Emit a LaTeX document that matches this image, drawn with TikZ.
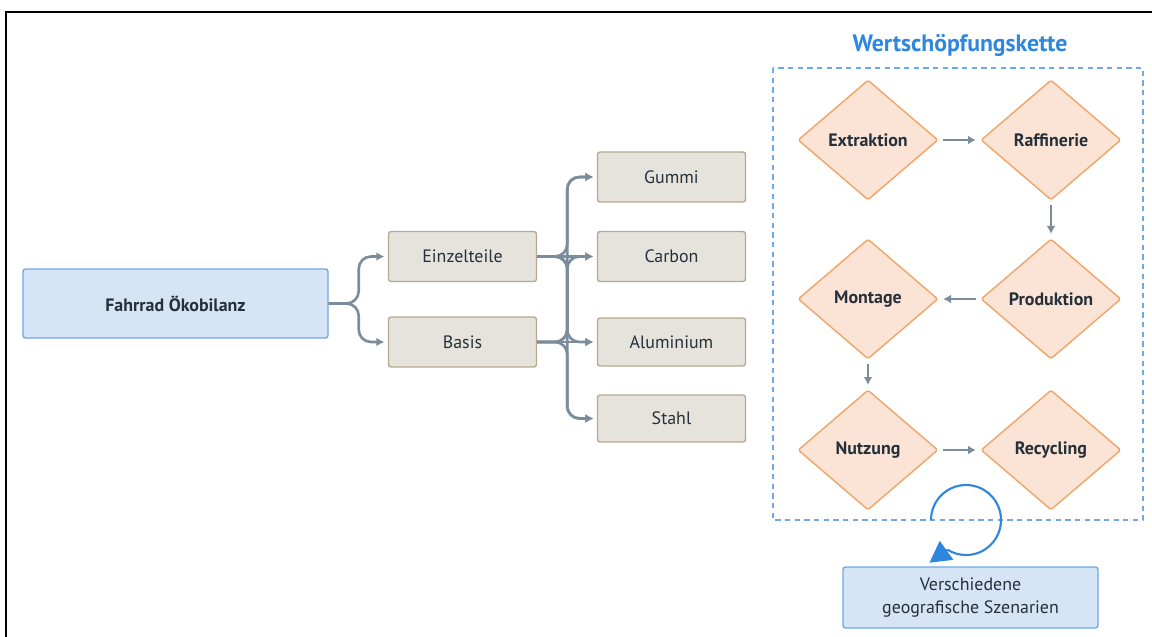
\documentclass[tikz,border=0pt]{standalone}
\usepackage{fontspec}
\setmainfont{PT Sans}
\usetikzlibrary{shapes.geometric,arrows.meta}

\definecolor{inkdark}{HTML}{26303B}
\definecolor{linegray}{HTML}{7B8D9C}
\definecolor{bluefill}{HTML}{D5E5F5}
\definecolor{blueline}{HTML}{6EA8E6}
\definecolor{tanfill}{HTML}{E6E3DD}
\definecolor{tanline}{HTML}{B5A98F}
\definecolor{peachfill}{HTML}{FBE4D5}
\definecolor{peachline}{HTML}{F0A468}
\definecolor{titleblue}{HTML}{2E86DE}

\tikzset{
	bluebox/.style={draw=blueline, fill=bluefill, line width=0.8pt, rounded corners=1.5pt,
		text=inkdark, align=center, font=\fontsize{10.2}{13}\selectfont},
	partbox/.style={draw=tanline, fill=tanfill, line width=0.8pt, rounded corners=1.5pt,
		text=inkdark, minimum width=2.96cm, minimum height=1cm, font=\fontsize{10.2}{12}\selectfont},
	stagebox/.style={diamond, draw=peachline, fill=peachfill, line width=0.8pt, rounded corners=1pt,
		minimum width=2.8cm, minimum height=2.4cm, inner sep=0pt, aspect=1.17,
		text=inkdark, font=\fontsize{10.2}{12}\selectfont\bfseries},
	conn/.style={draw=linegray, line width=1.5pt, rounded corners=7pt,
		-{Latex[length=4.5pt,width=5pt]}, shorten >=2pt},
	flow/.style={draw=linegray, line width=1.5pt,
		-{Latex[length=4.5pt,width=5pt]}, shorten >=2.5pt, shorten <=2.5pt}
}

\begin{document}
\begin{tikzpicture}
			\useasboundingbox (0,0) rectangle (23.04,-12.72);
			% Draw the outer frame:
			\draw[line width=1.1pt] (0.12,-13.2) -- (0.12,-0.24) -- (23.6,-0.24);
			% Specify the positions of the boxes:
			\coordinate (P0) at (3.51, -6.07);
			\coordinate (P1) at (9.25, -5.13);
			\coordinate (P2) at (9.25, -6.84);
			\coordinate (M0) at (13.43, -3.54);
			\coordinate (M1) at (13.43, -5.13);
			\coordinate (M2) at (13.43, -6.84);
			\coordinate (M3) at (13.43, -8.37);
			% Specify the positions of the stages:
			\coordinate (S0) at (17.36, -2.80);
			\coordinate (S1) at (21.02, -2.80);
			\coordinate (S2) at (21.02, -5.98);
			\coordinate (S3) at (17.36, -5.98);
			\coordinate (S4) at (17.36, -9.00);
			\coordinate (S5) at (21.02, -9.00);
			% Draw the boxes:
			\node[bluebox, minimum width=6.1cm, minimum height=1.38cm, font=\fontsize{10.2}{13}\selectfont\bfseries] (fahrrad) at (P0) {Fahrrad Ökobilanz};
			\node[partbox] (einzel) at (P1) {Einzelteile};
			\node[partbox] (basis) at (P2) {Basis};
			\node[partbox] (gummi) at (M0) {Gummi};
			\node[partbox] (carbon) at (M1) {Carbon};
			\node[partbox, minimum height=0.96cm] (alu) at (M2) {Aluminium};
			\node[partbox, minimum height=0.94cm] (stahl) at (M3) {Stahl};
			% Draw the tree edges:
			\draw[conn] (fahrrad.east) -- ++(0.6,0) |- (einzel.west);
			\draw[conn] (fahrrad.east) -- ++(0.6,0) |- (basis.west);
			\foreach \m in {gummi,alu,stahl}{
				\draw[conn] (einzel.east) -- ++(0.6,0) |- (\m.west);
			}
			\foreach \m in {gummi,carbon,stahl}{
				\draw[conn] (basis.east) -- ++(0.6,0) |- (\m.west);
			}
			\draw[conn] (einzel.east) -- (carbon.west);
			\draw[conn] (basis.east) -- (alu.west);
			% Draw the value chain:
			\node[font=\fontsize{13.5}{15}\selectfont\bfseries, text=titleblue] (kette) at (19.2, -0.90) {Wertschöpfungskette};
			\draw[blueline, line width=0.7pt, dash pattern=on 3pt off 2.5pt] (15.46,-1.36) rectangle (22.86,-10.40);
			\node[stagebox] (extraktion) at (S0) {Extraktion};
			\node[stagebox] (raffinerie) at (S1) {Raffinerie};
			\node[stagebox] (produktion) at (S2) {Produktion};
			\node[stagebox] (montage) at (S3) {Montage};
			\node[stagebox] (nutzung) at (S4) {Nutzung};
			\node[stagebox] (recycling) at (S5) {Recycling};
			\draw[flow] (extraktion) -- (raffinerie);
			\draw[flow] (raffinerie) -- (produktion);
			\draw[flow] (produktion) -- (montage);
			\draw[flow] (montage) -- (nutzung);
			\draw[flow] (nutzung) -- (recycling);
			% Draw the scenario loop:
			\coordinate (L0) at (19.32, -10.40);
			\draw[titleblue, line width=1.2pt] ([shift={(180:0.70)}]L0) arc[start angle=180, end angle=-122, radius=0.70]
				coordinate (L1);
			\draw[titleblue, line width=1.2pt, -{Triangle[length=12pt,width=13pt]}] (L1) -- ++(-0.36,-0.26);
			\node[bluebox, minimum width=5.1cm, minimum height=1.22cm] (szenarien) at (19.41, -11.95) {Verschiedene\\geografische Szenarien};
		\end{tikzpicture}
\end{document}
